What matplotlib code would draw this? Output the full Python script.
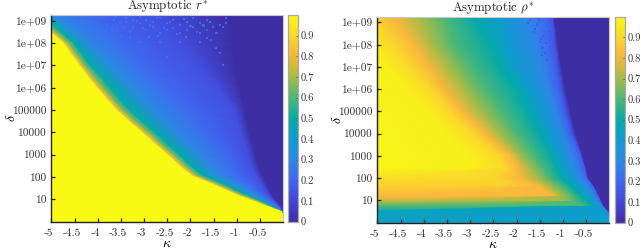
import numpy as np
import matplotlib
matplotlib.use("Agg")
import matplotlib.pyplot as plt
from matplotlib.colors import LinearSegmentedColormap, Normalize
from matplotlib.cm import ScalarMappable
from matplotlib.transforms import ScaledTranslation

plt.rcParams['font.family'] = ['cmr10', 'DejaVu Serif']
plt.rcParams['mathtext.fontset'] = 'cm'
plt.rcParams['axes.unicode_minus'] = False

kappa_ticks = [-5, -4.5, -4, -3.5, -3, -2.5, -2, -1.5, -1, -0.5]
kappa_labels = ['-5', '-4.5', '-4', '-3.5', '-3', '-2.5', '-2', '-1.5', '-1', '-0.5']
delta_ticks = [1e1, 1e2, 1e3, 1e4, 1e5, 1e6, 1e7, 1e8, 1e9]
delta_labels = ['10', '100', '1000', '10000', '100000', '1e+06', '1e+07', '1e+08', '1e+09']
cbar_ticks = [0, 0.1, 0.2, 0.3, 0.4, 0.5, 0.6, 0.7, 0.8, 0.9]
cbar_labels = ['0', '0.1', '0.2', '0.3', '0.4', '0.5', '0.6', '0.7', '0.8', '0.9']

# colorbar colours
cmap_pos = [0, 0.1, 0.2, 0.3, 0.4, 0.5, 0.6, 0.7, 0.76, 0.82, 0.9, 1]
cmap_col = ['#3e2ea4', '#4444d8', '#3f68f0', '#2d88e6', '#109cd0', '#05aaa8',
            '#4cb878', '#a4bc48', '#d8b83a', '#fab83c', '#fbd82c', '#f8fa14']

# left panel: kappa where r* reaches each level, one row per log10(delta)
r_log_delta = [0, 0.48, 0.75, 1, 1.25, 1.67, 2.1, 2.5, 3, 3.5, 4, 4.5, 5, 5.5, 6, 6.5, 7, 7.5, 8, 8.5, 9, 9.25]
r_levels = [1, 1, 0.8, 0.65, 0.5, 0.3, 0.2, 0.13, 0, 0]
r_kappa = [
    [-7, 0.02, 0.02, 0.02, 0.02, 0.02, 0.02, 0.02, 0.02, 2],
    [-7, 0, 0, 0, 0, 0, 0, 0, 0, 2],
    [-7, -0.38, -0.36, -0.33, -0.3, -0.22, -0.15, -0.1, -0.07, 2],
    [-7, -0.72, -0.68, -0.62, -0.55, -0.42, -0.3, -0.22, -0.18, 2],
    [-7, -1.05, -1.0, -0.93, -0.84, -0.66, -0.47, -0.33, -0.26, 2],
    [-7, -1.5, -1.45, -1.37, -1.25, -1.0, -0.68, -0.45, -0.36, 2],
    [-7, -2.0, -1.95, -1.87, -1.74, -1.4, -0.95, -0.58, -0.45, 2],
    [-7, -2.24, -2.19, -2.1, -1.98, -1.6, -1.08, -0.68, -0.53, 2],
    [-7, -2.5, -2.45, -2.36, -2.23, -1.8, -1.22, -0.75, -0.6, 2],
    [-7, -2.78, -2.73, -2.64, -2.5, -2.05, -1.4, -0.83, -0.67, 2],
    [-7, -3.05, -3.0, -2.9, -2.75, -2.3, -1.6, -0.9, -0.73, 2],
    [-7, -3.33, -3.28, -3.18, -3.03, -2.52, -1.8, -0.97, -0.78, 2],
    [-7, -3.6, -3.55, -3.45, -3.3, -2.75, -2.0, -1.05, -0.83, 2],
    [-7, -3.82, -3.77, -3.67, -3.52, -2.98, -2.25, -1.22, -0.88, 2],
    [-7, -4.02, -3.97, -3.87, -3.72, -3.2, -2.5, -1.4, -0.93, 2],
    [-7, -4.22, -4.17, -4.07, -3.92, -3.43, -2.75, -1.6, -0.98, 2],
    [-7, -4.4, -4.35, -4.27, -4.15, -3.66, -3.0, -1.8, -1.02, 2],
    [-7, -4.58, -4.53, -4.45, -4.33, -3.93, -3.22, -2.0, -1.05, 2],
    [-7, -4.75, -4.7, -4.62, -4.5, -4.2, -3.45, -2.2, -1.08, 2],
    [-7, -5.03, -4.98, -4.9, -4.78, -4.48, -3.7, -2.4, -1.1, 2],
    [-7, -5.35, -5.3, -5.2, -5.05, -4.78, -3.95, -2.6, -1.13, 2],
    [-7, -5.5, -5.45, -5.35, -5.2, -4.95, -4.1, -2.8, -1.15, 2],
]
r_speck_kappa = [-3.66, -3.52, -3.38, -3.38, -3.23, -3.23, -3.09, -3.09, -2.95, -2.95, -2.80, -2.80,
                 -2.66, -2.66, -2.51, -2.51, -2.37, -2.37, -2.23, -2.23, -2.08, -2.08, -1.94, -1.94,
                 -1.80, -1.80, -1.65, -1.65, -1.51, -1.36, -1.23, -1.23, -4.3, -4.1, -3.9, -3.8,
                 -3.23, -2.51, -3.09, -2.66, -2.23, -1.8, -1.45, -1.36, -1.3, -1.65, -3.5, -2.9,
                 -3.6, -3.45, -3.3, -3.15, -3.02, -2.88, -2.73, -2.58, -2.44, -2.3, -2.15, -2.0,
                 -1.87, -1.72, -1.58, -1.44, -1.3, -4.45, -4.2, -4.0, -3.7, -3.3, -2.7, -2.1, -1.55]
r_speck_log = [9.03, 8.88, 8.95, 9.1, 8.73, 9.03, 8.88, 9.18, 8.58, 9.03, 8.73, 8.95,
               9.1, 8.43, 8.88, 8.58, 9.03, 8.65, 8.8, 8.43, 8.95, 8.58, 8.73, 9.1,
               8.43, 8.88, 8.58, 9.03, 8.73, 8.8, 8.88, 9.1, 9.1, 8.95, 9.1, 8.8,
               7.54, 7.39, 8.06, 8.06, 8.06, 8.06, 7.77, 7.54, 7.02, 8.2, 8.3, 8.25,
               9.15, 8.7, 8.5, 8.98, 8.65, 8.78, 9.12, 8.68, 8.95, 8.38, 9.05, 8.75,
               8.5, 8.78, 8.92, 8.45, 8.7, 9.18, 9.05, 8.85, 8.6, 8.2, 8.3, 8.28, 8.15]

# right panel: same idea, with the highest value each row reaches
rho_log_delta = [0, 0.48, 0.78, 1, 1.22, 1.67, 2, 2.5, 3, 4, 5, 6, 7, 8, 9, 9.25]
rho_row_max = [0.42, 0.45, 0.62, 0.75, 0.82, 0.88, 0.93, 1, 1, 1, 1, 1, 1, 1, 1, 1]
rho_levels = [1, 0.97, 0.9, 0.82, 0.7, 0.6, 0.5, 0.4, 0.3, 0.2, 0.15, 0, 0]
rho_kappa = [
    [-7, -6, -6, -6, 0.02, 0.02, 0.02, 0.02, 0.02, 0.02, 0.02, 0.03, 2],
    [-7, -6, -6, -6, -5.9, -5.8, -5.7, -0.03, -0.02, -0.01, -0.005, 0, 2],
    [-7, -6, -6, -6, -5.9, -0.55, -0.36, -0.24, -0.17, -0.14, -0.13, -0.12, 2],
    [-7, -6, -6, -6, -1.0, -0.74, -0.5, -0.36, -0.27, -0.2, -0.18, -0.17, 2],
    [-7, -6, -6, -1.2, -1.02, -0.8, -0.6, -0.45, -0.33, -0.25, -0.23, -0.22, 2],
    [-7, -6, -2.2, -1.55, -1.3, -1.05, -0.83, -0.62, -0.47, -0.37, -0.34, -0.33, 2],
    [-7, -6, -2.5, -1.92, -1.53, -1.28, -1.03, -0.8, -0.62, -0.5, -0.46, -0.45, 2],
    [-7, -2.85, -2.25, -2.0, -1.72, -1.45, -1.14, -0.93, -0.72, -0.58, -0.52, -0.51, 2],
    [-7, -3.0, -2.4, -2.13, -1.92, -1.63, -1.25, -1.06, -0.82, -0.65, -0.59, -0.58, 2],
    [-7, -3.5, -2.95, -2.68, -2.37, -2.0, -1.52, -1.28, -1.0, -0.87, -0.8, -0.72, 2],
    [-7, -3.94, -3.45, -3.18, -2.78, -2.32, -1.77, -1.49, -1.16, -1.0, -0.93, -0.83, 2],
    [-7, -4.35, -3.85, -3.56, -3.12, -2.7, -2.0, -1.71, -1.31, -1.12, -1.04, -0.94, 2],
    [-7, -4.76, -4.3, -3.9, -3.46, -3.0, -2.36, -2.0, -1.46, -1.22, -1.12, -1.03, 2],
    [-7, -5.2, -4.7, -4.22, -3.8, -3.35, -2.57, -2.15, -1.6, -1.3, -1.18, -1.1, 2],
    [-7, -5.6, -5.05, -4.58, -4.0, -3.5, -2.86, -2.28, -1.78, -1.35, -1.22, -1.17, 2],
    [-7, -5.8, -5.2, -4.7, -4.15, -3.62, -2.95, -2.35, -1.85, -1.38, -1.23, -1.19, 2],
]
rho_speck_kappa = [-1.75, -1.6, -1.5, -1.42, -1.35, -1.5, -1.62, -1.3, -1.44, -1.38, -1.7, -1.55,
                   -1.48, -1.3, -1.34, -1.28, -1.45, -1.24, -1.52, -1.36]
rho_speck_log = [8.95, 8.7, 9.05, 8.4, 8.85, 8.1, 8.55, 8.6, 7.85, 7.6, 9.1, 8.9,
                 8.25, 8.2, 7.3, 7.9, 7.55, 8.95, 9.15, 8.05]

cmap = LinearSegmentedColormap.from_list('bar', list(zip(cmap_pos, cmap_col)), N=512)
norm = Normalize(0, 1)


def draw_panel(ax_box, cax_box, title, log_delta, levels, kappa, row_max, sp_k, sp_l, sp_v, sp_a):
    ax = fig.add_axes(ax_box)
    xx = np.array(kappa)
    yy = np.tile(10.0 ** np.array(log_delta)[:, None], (1, xx.shape[1]))
    cc = np.minimum(np.tile(levels, (len(log_delta), 1)), np.array(row_max)[:, None])
    ax.pcolormesh(xx, yy, cc, cmap=cmap, norm=norm, shading='gouraud', rasterized=True)
    ax.scatter(sp_k, 10.0 ** np.array(sp_l), c=[sp_v] * len(sp_k), cmap=cmap, norm=norm,
               marker='s', s=2.2, linewidths=0, alpha=sp_a)
    ax.set_yscale('log')
    ax.set_xlim(-5, 0)
    ax.set_ylim(1, 10 ** 9.25)
    ax.set_xticks(kappa_ticks)
    ax.set_xticklabels(kappa_labels)
    ax.set_yticks(delta_ticks)
    ax.set_yticklabels(delta_labels)
    ax.minorticks_off()
    ax.tick_params(direction='in', length=3, width=0.9, labelsize=8.2, color='#222222',
                   labelcolor='#333333', pad=3)
    ax.tick_params(axis='x', pad=5)
    shift = ScaledTranslation(-2.5 / 100, 0, fig.dpi_scale_trans)
    for lab in ax.get_xticklabels():
        lab.set_transform(lab.get_transform() + shift)
    ax.set_xlabel(r'$\kappa$', fontsize=10, labelpad=0)
    ax.set_ylabel(r'$\delta$', fontsize=10, labelpad=-4)
    ax.set_title(title, fontsize=9.2, pad=2.5, color='#222222')
    for s in ['left', 'bottom']:
        ax.spines[s].set_linewidth(1.0)
        ax.spines[s].set_color('#222222')
    for s in ['top', 'right']:
        ax.spines[s].set_linewidth(0.8)
        ax.spines[s].set_color('#c8c8c8')

    cax = fig.add_axes(cax_box)
    cb = fig.colorbar(ScalarMappable(norm=norm, cmap=cmap), cax=cax)
    cb.set_ticks(cbar_ticks)
    cb.set_ticklabels(cbar_labels)
    cb.ax.set_ylim(0, 1)
    cb.ax.tick_params(direction='in', length=1.5, width=0.6, labelsize=7.6, color='#555555',
                      labelcolor='#333333', pad=2)
    cb.outline.set_edgecolor('#a8a8a8')
    cb.outline.set_linewidth(0.9)


W, H = 640.0, 250.0
fig = plt.figure(figsize=(6.4, 2.5), dpi=100)

draw_panel([51.3 / W, 1 - 221.7 / H, 232 / W, 206.7 / H], [288 / W, 1 - 221.7 / H, 10 / W, 206.7 / H],
           r'Asymptotic $r^{*}$', r_log_delta, r_levels, r_kappa, [1] * len(r_log_delta),
           r_speck_kappa, r_speck_log, 0.25, 0.8)
draw_panel([377.3 / W, 1 - 222.7 / H, 232 / W, 206 / H], [614.7 / W, 1 - 222.7 / H, 10 / W, 206 / H],
           r'Asymptotic $\rho^{*}$', rho_log_delta, rho_levels, rho_kappa, rho_row_max,
           rho_speck_kappa, rho_speck_log, 0.15, 0.6)

fig.savefig('out.png', dpi=100)
